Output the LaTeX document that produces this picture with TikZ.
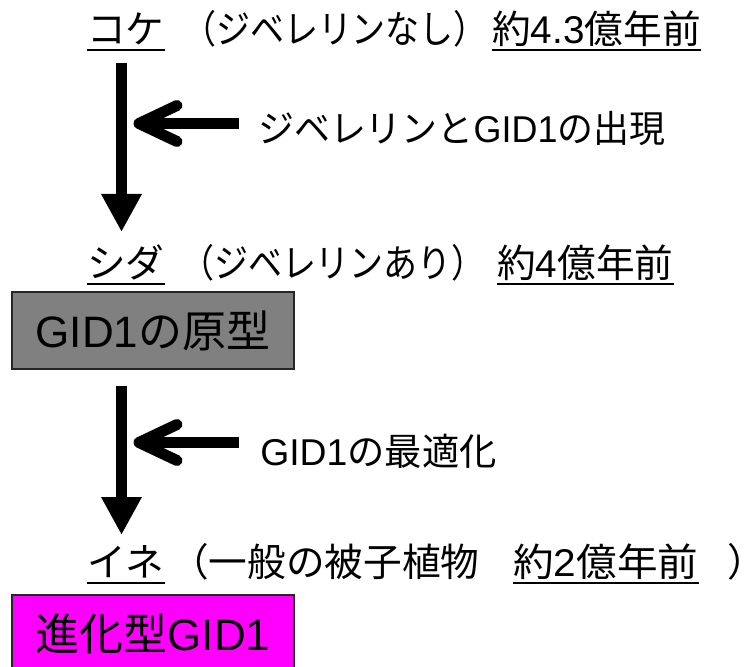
\documentclass[tikz,border=0pt]{standalone}
\usepackage{fontspec}
\usepackage{graphicx}
\setmainfont{Noto Sans CJK JP}
\newfontfamily\jpp[RawFeature=+palt]{Noto Sans CJK JP}
\newfontfamily\ar{Liberation Sans}
\usetikzlibrary{arrows.meta}
\definecolor{boxgray}{RGB}{128,128,128}
\definecolor{boxmag}{RGB}{255,0,255}
\newdimen\pxu \pxu=0.75pt
\newcommand\fitw[2]{\resizebox{#1\pxu}{\height}{#2}}
\begin{document}
\begin{tikzpicture}[x=0.75pt,y=-0.75pt,
  txt/.style={inner sep=0pt, anchor=west, text height=25.5pt, text depth=3.5pt,
              font=\fontsize{29}{32}\selectfont},
  lab/.style={txt, font=\fontsize{28}{31}\selectfont},
  ul/.style={append after command={([yshift=-1.2pt]\tikzlastnode.south west) edge[ulline] ([yshift=-1.2pt]\tikzlastnode.south east)}},
  ulline/.style={draw=black, line width=1.5pt},
  gbox/.style={draw=black!85, line width=1.1pt, minimum width=211.5pt, minimum height=57.75pt,
               inner sep=0pt, font=\fontsize{33}{36}\selectfont},
  varrow/.style={line width=7.9pt, -{Triangle[length=28.5pt, width=28.5pt]}},
  harrow/.style={line width=8.25pt, line cap=butt},
  chev/.style={line width=8.25pt, line cap=round, line join=round}
]
\useasboundingbox (0,0) rectangle (744,667);

% line 1
\node[txt, ul] (koke) at (87,29) {コケ};
\node[txt, anchor=center] (p1) at (335,29) {\fitw{306}{（ジベレリンなし）}};
\node[txt, ul] (age1) at (492,29) {約{\ar 4.3}億年前};

% line 2
\node[txt, ul] (shida) at (87,263) {シダ};
\node[txt, anchor=center] (p2) at (333,263) {\fitw{306}{（ジベレリンあり）}};
\node[txt, ul] (age2) at (497,263) {約{\ar 4}億年前};

% line 3
\node[txt, ul] (ine) at (87,562) {イネ};
\node[txt] (p3) at (170,562) {（一般の被子植物};
\node[txt, ul] (age3) at (513,562) {\fitw{185}{約{\ar 2}億年前}};
\node[txt] (p3e) at (729,562) {\jpp ）};

% boxes
\node[gbox, fill=boxgray] (b1) at (153,330.5) {{\ar GID1}の原型};
\node[gbox, fill=boxmag] (b2) at (153,633.5) {進化型{\ar GID1}};

% labels
\node[lab] (l1) at (258,128) {\fitw{407}{ジベレリンと{\ar GID1}の出現}};
\node[lab] (l2) at (260,451) {{\ar GID1}の最適化};

% vertical arrows
\coordinate (v1s) at (121.5,63);
\coordinate (v1e) at (121.5,232);
\coordinate (v2s) at (121.5,386);
\coordinate (v2e) at (121.5,535);
\draw[varrow] (v1s) -- (v1e);
\draw[varrow] (v2s) -- (v2e);

% horizontal arrows
\coordinate (h1s) at (239,123.5);
\coordinate (h1e) at (139,123.5);
\coordinate (h2s) at (239,442.5);
\coordinate (h2e) at (139,442.5);
\draw[harrow] (h1s) -- (h1e);
\draw[chev] ([shift={(38,-18)}]h1e) -- (h1e) -- ([shift={(38,18)}]h1e);
\draw[harrow] (h2s) -- (h2e);
\draw[chev] ([shift={(38,-18)}]h2e) -- (h2e) -- ([shift={(38,18)}]h2e);
\end{tikzpicture}
\end{document}
